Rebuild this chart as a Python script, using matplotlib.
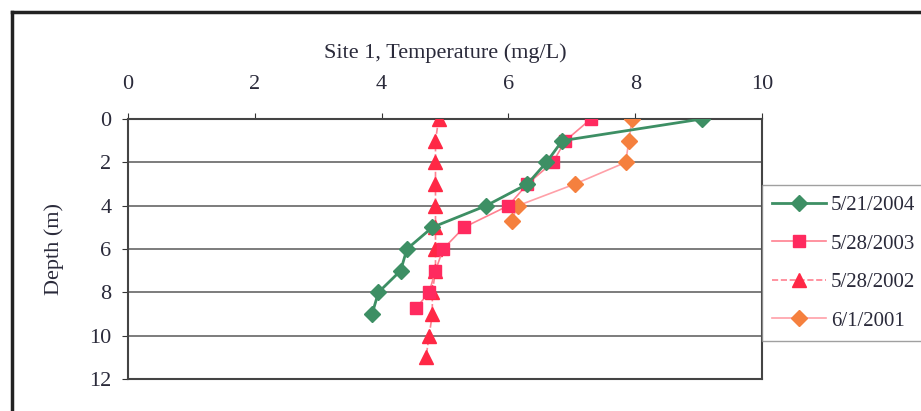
import matplotlib.pyplot as plt
from matplotlib.lines import Line2D

plt.rcParams['font.family'] = ['Liberation Serif', 'DejaVu Serif']

# --- data ---
labels = ['5/21/2004', '5/28/2003', '5/28/2002', '6/1/2001']

depth_2004 = [0, 1, 2, 3, 4, 5, 6, 7, 8, 9]
temp_2004 = [9.05, 6.85, 6.6, 6.3, 5.65, 4.8, 4.4, 4.3, 3.95, 3.85]

depth_2003 = [0, 1, 2, 3, 4, 5, 6, 7, 8, 8.7]
temp_2003 = [7.3, 6.9, 6.7, 6.3, 6.0, 5.3, 4.97, 4.85, 4.75, 4.55]

depth_2002 = [0, 1, 2, 3, 4, 5, 6, 7, 8, 9, 10, 11]
temp_2002 = [4.9, 4.85, 4.85, 4.85, 4.85, 4.85, 4.85, 4.85, 4.8, 4.8, 4.75, 4.7]

depth_2001 = [0, 1, 2, 3, 4, 4.7]
temp_2001 = [7.95, 7.9, 7.85, 7.05, 6.15, 6.05]

x_ticks = [0, 2, 4, 6, 8, 10]
y_ticks = [0, 2, 4, 6, 8, 10, 12]

fig = plt.figure(figsize=(9.21, 4.11), dpi=100)
ax = fig.add_axes([128 / 921, 1 - 379 / 411, 634 / 921, 260 / 411])

# outer chart frame (left and top edges only, rest is cropped)
fig.add_artist(Line2D([12 / 921, 12 / 921], [0, 1 - 12 / 411], transform=fig.transFigure,
                      color='#222222', lw=2.5))
fig.add_artist(Line2D([12 / 921, 1], [1 - 12 / 411, 1 - 12 / 411], transform=fig.transFigure,
                      color='#222222', lw=2.5))

ax.plot(temp_2004, depth_2004, color='#3d8f64', lw=2, marker='D', ms=8,
        label=labels[0], zorder=5)
ax.plot(temp_2003, depth_2003, color='#ff8090', lw=1.2, marker='s', ms=9,
        mfc='#ff2a5f', mec='#ff2a5f', label=labels[1], zorder=4)
ax.plot(temp_2002, depth_2002, color='#ff8090', lw=1.2, ls='--', marker='^', ms=9.5,
        mfc='#ff2845', mec='#ff2845', label=labels[2], zorder=3)
ax.plot(temp_2001, depth_2001, color='#ffa0a8', lw=1.2, marker='D', ms=8,
        mfc='#f5803e', mec='#f5803e', label=labels[3], zorder=3)

ax.set_xlim(0, 10)
ax.set_ylim(12, 0)
ax.set_xticks(x_ticks)
ax.set_yticks(y_ticks)
ax.xaxis.tick_top()
ax.xaxis.set_label_position('top')
ax.tick_params(axis='x', labelsize=16, pad=14, length=4, colors='#333333')
ax.tick_params(axis='y', labelsize=16, pad=8, length=4, colors='#333333')
for t in ax.get_xticklabels() + ax.get_yticklabels():
    t.set_color('#2a2a3a')

ax.set_xlabel('Site 1, Temperature (mg/L)', fontsize=16, labelpad=12, color='#2a2a3a')
ax.set_ylabel('Depth (m)', fontsize=16, labelpad=18, color='#2a2a3a')

ax.grid(axis='y', color='#666666', lw=1.2)
ax.grid(axis='x', visible=False)
for s in ax.spines.values():
    s.set_color('#444444')
    s.set_linewidth(1.5)

fig.legend(loc='upper left', bbox_to_anchor=(762 / 921, 1 - 185 / 411),
           borderaxespad=0, fontsize=15, frameon=True, fancybox=False,
           edgecolor='#888888', handlelength=2.55, handletextpad=0.25,
           labelspacing=0.91, borderpad=0.5, labelcolor='#2a2a3a')

fig.savefig('out.png', dpi=100, facecolor='white')
